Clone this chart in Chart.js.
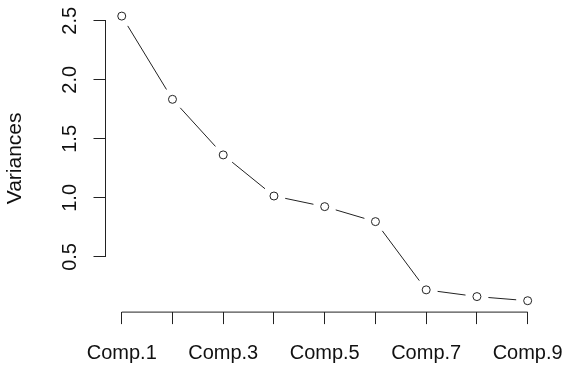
<!DOCTYPE html>
<html><head><meta charset="utf-8">
<script src="https://cdn.jsdelivr.net/npm/chart.js@4.4.1/dist/chart.umd.min.js"></script>
<style>html,body{margin:0;padding:0;background:#fff}#wrap{width:566px;height:369px;position:relative}</style>
</head><body><div id="wrap"><canvas id="c" width="566" height="369"></canvas></div>
<script>
const categories = ['Comp.1','Comp.2','Comp.3','Comp.4','Comp.5','Comp.6','Comp.7','Comp.8','Comp.9'];
const variances = [2.54, 1.835, 1.364, 1.016, 0.926, 0.799, 0.221, 0.164, 0.129];
const yTickValues = [0.5, 1.0, 1.5, 2.0, 2.5];
const yTickLabels = ['0.5', '1.0', '1.5', '2.0', '2.5'];
const xTickLabels = ['Comp.1', '', 'Comp.3', '', 'Comp.5', '', 'Comp.7', '', 'Comp.9'];
const yTitle = 'Variances';

const ink = '#222222';
const textInk = '#111111';
const FONT = 'Liberation Sans, Arial, sans-serif';
const GAP = 11.5; // px left blank around each point (R type="b")

const points = variances.map((v, i) => ({ x: i + 1, y: v }));
const yMinData = Math.min(...variances), yMaxData = Math.max(...variances);
const yPad = (yMaxData - yMinData) * 0.04;
const xPad = (categories.length - 1) * 0.04;

function segLen(c) { return Math.hypot(c.p1.x - c.p0.x, c.p1.y - c.p0.y); }

const rAxes = {
  id: 'rAxes',
  afterDraw(chart) {
    const ctx = chart.ctx;
    const xs = chart.scales.x, ys = chart.scales.y;
    const ca = chart.chartArea;
    ctx.save();
    ctx.strokeStyle = ink;
    ctx.lineWidth = 1;
    const yTop = ys.getPixelForValue(yTickValues[yTickValues.length - 1]);
    const yBot = ys.getPixelForValue(yTickValues[0]);
    ctx.beginPath();
    ctx.moveTo(ca.left, yTop);
    ctx.lineTo(ca.left, yBot);
    ctx.stroke();
    const xL = xs.getPixelForValue(1);
    const xR = xs.getPixelForValue(categories.length);
    ctx.beginPath();
    ctx.moveTo(xL, ca.bottom);
    ctx.lineTo(xR, ca.bottom);
    ctx.stroke();
    ctx.fillStyle = textInk;
    ctx.font = '20px ' + FONT;
    ctx.textAlign = 'center';
    ctx.textBaseline = 'alphabetic';
    yTickValues.forEach((v, i) => {
      const py = ys.getPixelForValue(v);
      ctx.save();
      ctx.translate(ca.left - 30, py);
      ctx.rotate(-Math.PI / 2);
      ctx.fillText(yTickLabels[i], 0, 0);
      ctx.restore();
    });
    ctx.restore();
  }
};

new Chart(document.getElementById('c'), {
  type: 'scatter',
  data: {
    datasets: [
      {
        data: points,
        showLine: true,
        borderColor: ink,
        borderWidth: 1,
        tension: 0,
        pointRadius: 4,
        pointBorderWidth: 1,
        pointBorderColor: ink,
        pointBackgroundColor: '#ffffff',
        clip: false,
        segment: {
          borderDash: (c) => {
            const L = segLen(c);
            return [Math.max(L - 2 * GAP, 0.01), L + 2 * GAP];
          },
          borderDashOffset: () => -GAP
        }
      }
    ]
  },
  options: {
    responsive: false,
    animation: false,
    devicePixelRatio: 1,
    events: [],
    layout: { autoPadding: false, padding: { top: 4.7, right: 22.1, left: 0, bottom: 0 } },
    plugins: { legend: { display: false }, tooltip: { enabled: false } },
    scales: {
      x: {
        type: 'linear',
        min: 1 - xPad,
        max: categories.length + xPad,
        afterBuildTicks: (s) => { s.ticks = categories.map((c, i) => ({ value: i + 1 })); },
        afterFit: (s) => { s.height = 56.9; s.paddingLeft = 0; s.paddingRight = 0; },
        border: { display: false },
        grid: { display: true, drawOnChartArea: false, drawTicks: true, tickLength: 12, color: ink, lineWidth: 1 },
        ticks: {
          autoSkip: false, maxRotation: 0, minRotation: 0, padding: 17,
          color: textInk, font: { family: FONT, size: 20 },
          callback: (v) => xTickLabels[Math.round(v) - 1]
        }
      },
      y: {
        type: 'linear',
        min: yMinData - yPad,
        max: yMaxData + yPad,
        afterBuildTicks: (s) => { s.ticks = yTickValues.map(v => ({ value: v })); },
        afterFit: (s) => { s.width = 105.5; s.paddingTop = 0; s.paddingBottom = 0; },
        border: { display: false },
        grid: { display: true, drawOnChartArea: false, drawTicks: true, tickLength: 12, color: ink, lineWidth: 1 },
        ticks: { display: false },
        title: {
          display: true, text: yTitle, color: textInk,
          font: { family: FONT, size: 21 },
          padding: { top: 3, bottom: 0 }
        }
      }
    }
  },
  plugins: [rAxes]
});
</script>
</body></html>
